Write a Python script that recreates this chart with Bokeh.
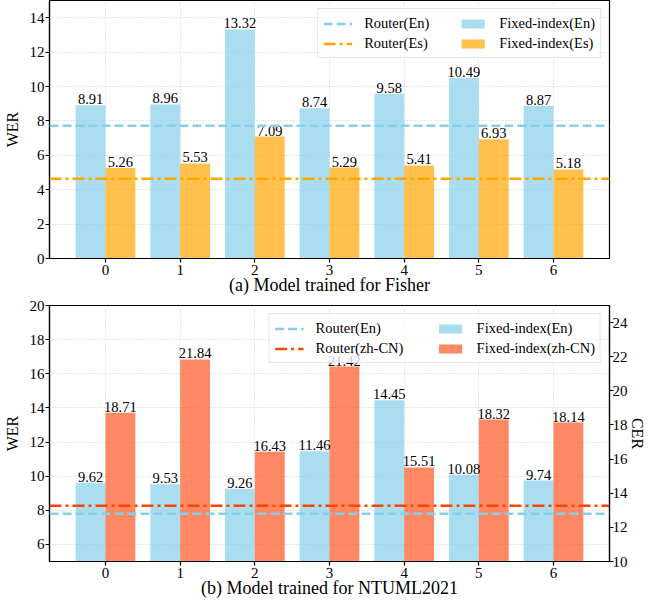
from bokeh.plotting import figure
from bokeh.models import (ColumnDataSource, Span, Legend, LegendItem, FixedTicker,
                          Range1d, LinearAxis)
from bokeh.layouts import column
from bokeh.transform import dodge
from bokeh.core.properties import value
from bokeh.embed import file_html
from bokeh.resources import INLINE

# ---------------- data ----------------
layers = [0, 1, 2, 3, 4, 5, 6]
fisher_en = [8.91, 8.96, 13.32, 8.74, 9.58, 10.49, 8.87]
fisher_es = [5.26, 5.53, 7.09, 5.29, 5.41, 6.93, 5.18]
fisher_router_en = 7.72
fisher_router_es = 4.63

ntuml_en = [9.62, 9.53, 9.26, 11.46, 14.45, 10.08, 9.74]
ntuml_zh_cer = [18.71, 21.84, 16.43, 21.42, 15.51, 18.32, 18.14]
ntuml_router_en = 7.80
ntuml_router_zh_cer = 13.26

top_yticks = [0, 2, 4, 6, 8, 10, 12, 14]
bottom_yticks = [6, 8, 10, 12, 14, 16, 18, 20]
bottom_cer_ticks = [10, 12, 14, 16, 18, 20, 22, 24]

title_a = "(a) Model trained for Fisher"
title_b = "(b) Model trained for NTUML2021"

# ---------------- style ----------------
FONT = "Liberation Serif"
SKY = "#87CEEB"
ORANGE = "#FFA500"
DEEP = "#FF5722"
ORED = "#FF4500"
W = 0.4
DASH = "9 4"
DASHDOT = "12 4 3 4"
NAN = float("nan")


def style(p):
    p.outline_line_color = "black"
    p.outline_line_width = 1.2
    for ax in p.axis:
        ax.axis_line_color = "black"
        ax.axis_line_width = 1.2
        ax.major_tick_line_color = "black"
        ax.major_tick_line_width = 1.2
        ax.major_tick_out = 4
        ax.major_tick_in = 0
        ax.minor_tick_line_color = None
        ax.major_label_text_font = FONT
        ax.major_label_text_font_size = "15px"
        ax.major_label_text_color = "black"
        ax.major_label_standoff = 1
        ax.axis_label_text_font = FONT
        ax.axis_label_text_font_style = "normal"
        ax.axis_label_text_color = "black"
    for g in p.grid:
        g.grid_line_color = "#c8c8c8"
        g.grid_line_dash = "1 2"
        g.grid_line_width = 0.9


def make_legend(items, lw):
    lg = Legend(items=items, location="top_right", orientation="vertical", nrows=2)
    lg.label_text_font = FONT
    lg.label_text_font_size = "14.5px"
    lg.label_text_color = "black"
    lg.glyph_width = 29
    lg.glyph_height = 11
    lg.label_standoff = 12
    lg.label_width = lw
    lg.label_height = 18
    lg.spacing = 2
    lg.padding = 5
    lg.margin = 8
    lg.border_line_color = "#cccccc"
    lg.border_line_width = 1
    lg.background_fill_color = "white"
    lg.background_fill_alpha = 0.8
    return lg


def style_xaxis(p, title):
    p.xaxis.ticker = FixedTicker(ticks=layers)
    p.xaxis.major_label_standoff = 2
    p.xaxis.axis_label = title
    p.xaxis.axis_label_text_font_size = "18px"
    p.xaxis.axis_label_standoff = -3


# ---------------- top figure ----------------
src1 = ColumnDataSource(dict(
    layer=layers, en=fisher_en, es=fisher_es,
    en_lbl=[f"{v:.2f}" for v in fisher_en],
    es_lbl=[f"{v:.2f}" for v in fisher_es],
))

p1 = figure(width=651, height=297, x_range=Range1d(-0.75, 6.75), y_range=Range1d(0, 15),
            output_backend="svg", toolbar_location=None,
            min_border_top=0, min_border_left=44, min_border_right=42, min_border_bottom=0)

b_en = p1.vbar(x=dodge("layer", -0.2, range=p1.x_range), top="en", width=W, source=src1,
               fill_color=SKY, fill_alpha=0.7, line_color=None)
b_es = p1.vbar(x=dodge("layer", 0.2, range=p1.x_range), top="es", width=W, source=src1,
               fill_color=ORANGE, fill_alpha=0.7, line_color=None)
p1.text(x=dodge("layer", -0.2, range=p1.x_range), y="en", text="en_lbl", source=src1,
        text_align="center", text_baseline="bottom", y_offset=-1,
        text_font=value(FONT), text_font_size="14.5px", text_color="black")
p1.text(x=dodge("layer", 0.2, range=p1.x_range), y="es", text="es_lbl", source=src1,
        text_align="center", text_baseline="bottom", y_offset=-1,
        text_font=value(FONT), text_font_size="14.5px", text_color="black")

p1.add_layout(Span(location=fisher_router_en, dimension="width", line_color=SKY,
                   line_width=2.5, line_dash=DASH))
p1.add_layout(Span(location=fisher_router_es, dimension="width", line_color=ORANGE,
                   line_width=2.5, line_dash=DASHDOT))
l_en1 = p1.line([NAN], [NAN], line_color=SKY, line_width=2.5, line_dash=DASH)
l_es1 = p1.line([NAN], [NAN], line_color=ORANGE, line_width=2.5, line_dash=DASHDOT)

p1.yaxis.ticker = FixedTicker(ticks=top_yticks)
p1.yaxis.axis_label = "WER"
p1.yaxis.axis_label_text_font_size = "16px"
p1.yaxis.axis_label_standoff = 6
style(p1)
style_xaxis(p1, title_a)

p1.add_layout(make_legend([
    LegendItem(label="Router(En)", renderers=[l_en1]),
    LegendItem(label="Router(Es)", renderers=[l_es1]),
    LegendItem(label="Fixed-index(En)", renderers=[b_en]),
    LegendItem(label="Fixed-index(Es)", renderers=[b_es]),
], 92))

# ---------------- bottom figure ----------------
src2 = ColumnDataSource(dict(
    layer=layers, en=ntuml_en, zh=ntuml_zh_cer,
    en_lbl=[f"{v:.2f}" for v in ntuml_en],
    zh_lbl=[f"{v:.2f}" for v in ntuml_zh_cer],
))

p2 = figure(width=651, height=303, x_range=Range1d(-0.75, 6.75), y_range=Range1d(5, 20),
            output_backend="svg", toolbar_location=None,
            min_border_top=8, min_border_left=44, min_border_right=42, min_border_bottom=0)
p2.extra_y_ranges = {"cer": Range1d(10, 25)}

b_en2 = p2.vbar(x=dodge("layer", -0.2, range=p2.x_range), top="en", bottom=5, width=W,
                source=src2, fill_color=SKY, fill_alpha=0.7, line_color=None)
b_zh2 = p2.vbar(x=dodge("layer", 0.2, range=p2.x_range), top="zh", bottom=10, width=W,
                source=src2, fill_color=DEEP, fill_alpha=0.7, line_color=None,
                y_range_name="cer")
p2.text(x=dodge("layer", -0.2, range=p2.x_range), y="en", text="en_lbl", source=src2,
        text_align="center", text_baseline="bottom", y_offset=-1,
        text_font=value(FONT), text_font_size="14.5px", text_color="black")
p2.text(x=dodge("layer", 0.2, range=p2.x_range), y="zh", text="zh_lbl", source=src2,
        text_align="center", text_baseline="bottom", y_offset=-1, y_range_name="cer",
        text_font=value(FONT), text_font_size="14.5px", text_color="black")

p2.add_layout(Span(location=ntuml_router_en, dimension="width", line_color=SKY,
                   line_width=2.5, line_dash=DASH))
p2.add_layout(Span(location=ntuml_router_zh_cer, dimension="width", y_range_name="cer",
                   line_color=ORED, line_width=2.5, line_dash=DASHDOT))
l_en2 = p2.line([NAN], [NAN], line_color=SKY, line_width=2.5, line_dash=DASH)
l_zh2 = p2.line([NAN], [NAN], line_color=ORED, line_width=2.5, line_dash=DASHDOT)

right = LinearAxis(y_range_name="cer", axis_label="CER",
                   ticker=FixedTicker(ticks=bottom_cer_ticks))
p2.add_layout(right, "right")

p2.yaxis[0].ticker = FixedTicker(ticks=bottom_yticks)
p2.yaxis[0].axis_label = "WER"
style(p2)
style_xaxis(p2, title_b)
for ax in p2.yaxis:
    ax.axis_label_text_font_size = "16px"
p2.yaxis[0].axis_label_standoff = 6
right.major_label_standoff = -1
right.axis_label_standoff = -2
right.axis_label_orientation = "vertical"

p2.add_layout(make_legend([
    LegendItem(label="Router(En)", renderers=[l_en2]),
    LegendItem(label="Router(zh-CN)", renderers=[l_zh2]),
    LegendItem(label="Fixed-index(En)", renderers=[b_en2]),
    LegendItem(label="Fixed-index(zh-CN)", renderers=[b_zh2]),
], 118))

layout = column(p1, p2, spacing=0)
open("out.html", "w").write(file_html(layout, INLINE))
